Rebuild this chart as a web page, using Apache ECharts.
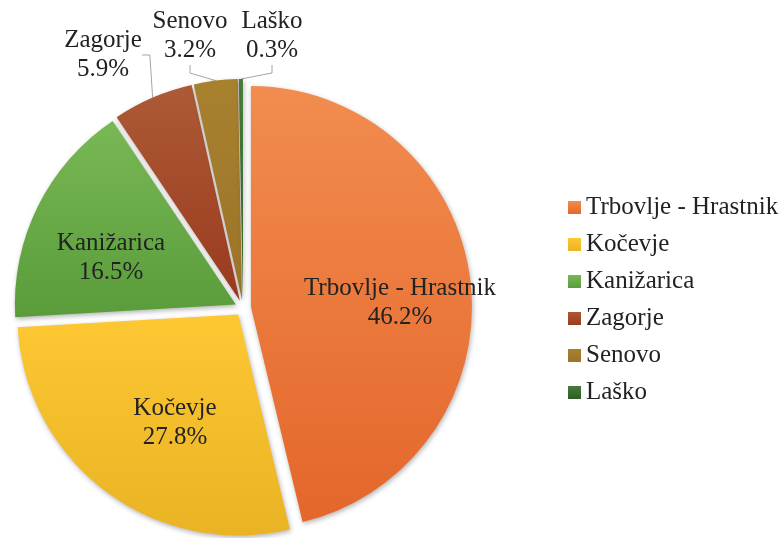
<!DOCTYPE html>
<html>
<head>
<meta charset="utf-8">
<script src="https://cdn.jsdelivr.net/npm/echarts@6/dist/echarts.min.js"></script>
<style>
  html, body { margin: 0; padding: 0; background: #fff; }
  #pieChart { width: 781px; height: 538px; }
</style>
</head>
<body>
<div id="pieChart"></div>
<script>
// podatki
var categories = ["Trbovlje - Hrastnik", "Kočevje", "Kanižarica", "Zagorje", "Senovo", "Laško"];
var shares = [46.2, 27.8, 16.5, 5.9, 3.2, 0.3];
// barve (zgoraj svetlejša, spodaj temnejša)
var topColors = ["#f28c4f", "#fdc832", "#78b855", "#ad5a36", "#a8812f", "#477a3a"];
var bottomColors = ["#e4662a", "#e9b324", "#5a9c3a", "#9a3a1e", "#9c7328", "#2f5e25"];
// mesta napisov
var labelPos = [[400, 303], [175, 423], [111, 258], [103, 55], [190, 36], [272, 36]];

var font = "'Liberation Serif', 'Times New Roman', serif";
var baseCenter = [243, 308];
var explode = 8; // odmik izrezov od središča

function grad(i) {
  return new echarts.graphic.LinearGradient(0, 0, 0, 1, [
    { offset: 0, color: topColors[i] },
    { offset: 1, color: bottomColors[i] }
  ]);
}

var total = shares.reduce(function (a, b) { return a + b; }, 0);

// vsak izrez je svoja serija, premaknjena v smeri svojega srednjega kota
var series = [];
var cum = 0;
categories.forEach(function (name, i) {
  var mid = (cum + shares[i] / 2) / total * 2 * Math.PI;
  cum += shares[i];
  var outer = i >= 3;
  var data = categories.map(function (n, j) {
    if (j !== i) {
      return {
        name: n,
        value: shares[j],
        itemStyle: { color: "rgba(0,0,0,0)", shadowBlur: 0, shadowColor: "rgba(0,0,0,0)" },
        label: { show: false },
        labelLine: { show: false }
      };
    }
    return {
      name: n,
      value: shares[j],
      itemStyle: { color: grad(j) },
      label: { show: true, position: outer ? "outside" : "inside" },
      labelLine: { show: outer }
    };
  });
  series.push({
    type: "pie",
    name: name,
    center: [baseCenter[0] + explode * Math.sin(mid), baseCenter[1] - explode * Math.cos(mid)],
    radius: 221,
    startAngle: 90,
    silent: true,
    avoidLabelOverlap: false,
    data: data,
    itemStyle: {
      shadowBlur: 5,
      shadowOffsetX: 1,
      shadowOffsetY: 2,
      shadowColor: "rgba(0,0,0,0.3)"
    },
    emphasis: { disabled: true },
    label: {
      formatter: function (p) { return p.name + "\n" + p.value.toFixed(1) + "%"; },
      fontFamily: font,
      fontSize: 25,
      lineHeight: 29,
      color: "#222",
      align: "center"
    },
    labelLine: {
      length: 8,
      length2: 8,
      lineStyle: { color: "#a6a6a6", width: 1 }
    },
    labelLayout: function (params) {
      var p = labelPos[params.dataIndex];
      return { x: p[0], y: p[1], align: "center", verticalAlign: "middle" };
    }
  });
});

var myPie = echarts.init(document.getElementById("pieChart"));
myPie.setOption({
  backgroundColor: "#fff",
  animation: false,
  legend: {
    orient: "vertical",
    left: 563,
    top: 188,
    itemWidth: 13,
    itemHeight: 13,
    itemGap: 8,
    icon: "rect",
    textStyle: { fontFamily: font, fontSize: 25, color: "#222", lineHeight: 29 },
    data: categories.map(function (n, i) {
      return { name: n, itemStyle: { color: grad(i) } };
    })
  },
  series: series
});
</script>
</body>
</html>
